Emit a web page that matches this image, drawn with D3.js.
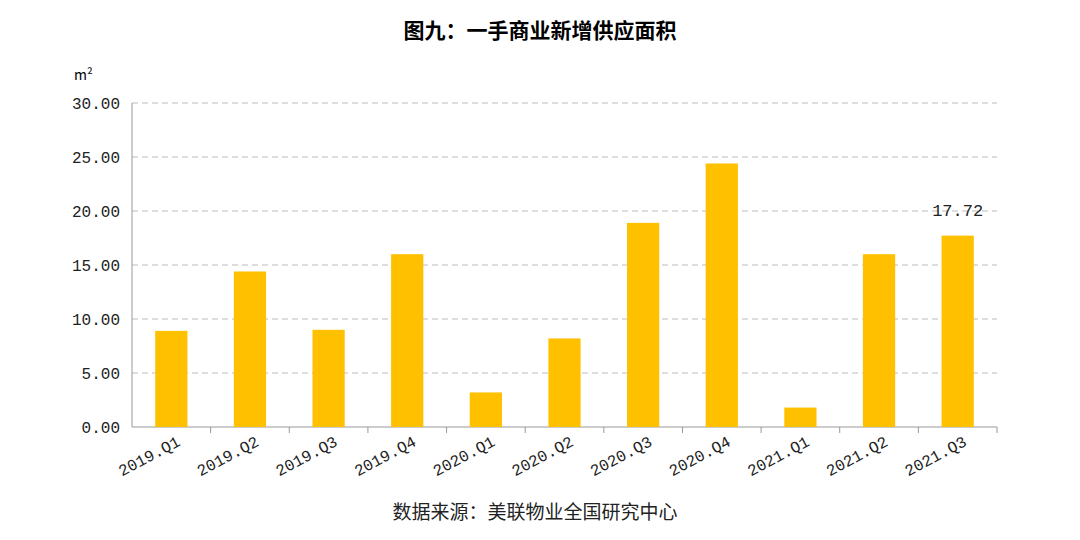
<!DOCTYPE html>
<html><head><meta charset="utf-8">
<script src="https://cdn.jsdelivr.net/npm/d3@7"></script>
<style>body{margin:0;background:#fff}</style></head>
<body><svg id="c" width="1080" height="540"></svg>
<script>
const categories=["2019.Q1","2019.Q2","2019.Q3","2019.Q4","2020.Q1","2020.Q2","2020.Q3","2020.Q4","2021.Q1","2021.Q2","2021.Q3"];
const values=[8.9,14.4,9.0,16.0,3.2,8.2,18.9,24.4,1.8,16.0,17.72];
const yTicks=[0,5,10,15,20,25,30];
const svg=d3.select("#c");
const L=132,R=997,T=103,B=427;
const x=d3.scaleBand().domain(categories).range([L,R]).paddingInner(0.59).paddingOuter(0.295);
const xb=d3.scaleBand().domain(categories).range([L,R]);
const y=d3.scaleLinear().domain([0,30]).range([B,T]);
const numFont="'Liberation Mono','DejaVu Sans Mono',monospace";
svg.append("text").attr("x",540).attr("y",38).attr("text-anchor","middle").attr("font-family","'Noto Sans CJK SC'").attr("font-weight","bold").attr("font-size",21).text("图九：一手商业新增供应面积");
svg.append("text").attr("x",74).attr("y",80).attr("font-family","'Noto Sans CJK SC'").attr("font-size",14).text("m²");
yTicks.forEach(t=>{
  if(t>0) svg.append("line").attr("x1",L).attr("x2",R).attr("y1",y(t)).attr("y2",y(t)).attr("stroke","#bbb").attr("stroke-dasharray","6,4");
  svg.append("text").attr("x",L-12).attr("y",y(t)+6).attr("text-anchor","end").attr("font-family",numFont).attr("font-size",16).attr("fill","#222").text(t.toFixed(2));
});
svg.append("line").attr("x1",L).attr("x2",L).attr("y1",T).attr("y2",B).attr("stroke","#999");
svg.append("line").attr("x1",L).attr("x2",R).attr("y1",B).attr("y2",B).attr("stroke","#999");
categories.forEach((c,i)=>{
  svg.append("line").attr("x1",xb(c)+xb.bandwidth()).attr("x2",xb(c)+xb.bandwidth()).attr("y1",B).attr("y2",B+6).attr("stroke","#999");
  const cx=x(c)+x.bandwidth()/2;
  svg.append("text").attr("transform",`translate(${cx+10},${B+18}) rotate(-28)`).attr("text-anchor","end").attr("font-family",numFont).attr("font-size",16).attr("fill","#222").text(c);
});
svg.selectAll("rect.b").data(values).enter().append("rect").attr("x",(d,i)=>x(categories[i])).attr("width",x.bandwidth()).attr("y",d=>y(d)).attr("height",d=>B-y(d)).attr("fill","#FFC000");
const li=10;
svg.append("text").attr("x",x(categories[li])+x.bandwidth()/2).attr("y",y(values[li])-20).attr("text-anchor","middle").attr("font-family",numFont).attr("font-size",17).attr("fill","#222").text(values[li].toFixed(2));
svg.append("text").attr("x",535).attr("y",519).attr("text-anchor","middle").attr("font-family","'Noto Sans CJK SC'").attr("font-size",19).attr("fill","#222").text("数据来源：美联物业全国研究中心");
</script></body></html>
